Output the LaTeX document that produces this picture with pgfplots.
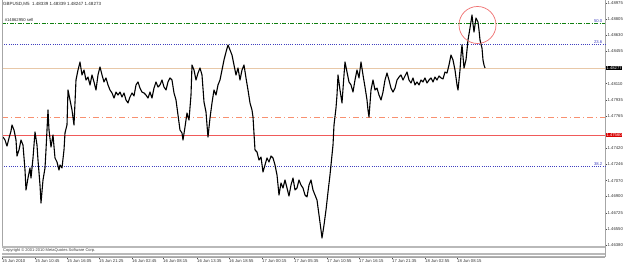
\documentclass[border=0pt]{standalone}
\usepackage{pgfplots}
\pgfplotsset{compat=1.18}
\usepackage{fontspec}
\setmainfont{Liberation Sans}
\definecolor{fibblue}{HTML}{4040C0}
\definecolor{dgreen}{HTML}{108010}
\definecolor{salmonline}{HTML}{F89070}
\definecolor{redline}{HTML}{F05A5A}
\definecolor{tanline}{HTML}{E8C8A8}
\definecolor{circ}{HTML}{F07070}
\pgfplotstableread{
x p
3 1.47538
5 1.47506
7 1.47441
9 1.47527
11 1.47602
12 1.47667
14 1.47613
16 1.47506
17 1.47334
19 1.47399
21 1.47506
23 1.47452
25 1.47184
26 1.46970
28 1.47098
30 1.47206
31 1.47098
33 1.47313
35 1.47592
37 1.47452
38 1.47291
40 1.47023
41 1.46830
43 1.47077
45 1.47206
46 1.47399
48 1.47827
49 1.47613
51 1.47431
53 1.47559
55 1.47313
57 1.47270
59 1.47184
60 1.47238
62 1.47206
64 1.47399
65 1.47581
67 1.47667
68 1.48042
70 1.47935
72 1.47827
74 1.47667
76 1.48149
78 1.48256
80 1.48342
82 1.48203
84 1.48256
86 1.48149
88 1.48181
90 1.48096
92 1.48203
94 1.48128
96 1.48042
98 1.48203
100 1.48289
102 1.48203
104 1.48128
106 1.48171
108 1.48096
110 1.48042
112 1.48010
114 1.47956
116 1.48020
118 1.47988
120 1.48020
122 1.47967
124 1.48010
126 1.47935
128 1.47903
130 1.47967
132 1.48010
134 1.47978
136 1.48096
138 1.48128
140 1.48063
142 1.48020
144 1.48010
146 1.47988
148 1.47956
150 1.48020
152 1.47956
154 1.48063
156 1.48128
158 1.48074
160 1.48096
162 1.48149
164 1.48074
166 1.48042
168 1.48128
170 1.48171
172 1.48149
174 1.48010
176 1.47935
178 1.47774
180 1.47613
182 1.47581
183 1.47506
185 1.47645
187 1.47795
189 1.47720
191 1.47988
192 1.48310
194 1.48256
196 1.48149
198 1.48224
200 1.48278
202 1.48203
204 1.47913
206 1.47806
207 1.47667
208 1.47538
210 1.47742
212 1.47903
214 1.48042
216 1.47988
218 1.48096
220 1.48149
222 1.48256
224 1.48364
226 1.48449
228 1.48525
230 1.48471
232 1.48417
234 1.48310
236 1.48203
238 1.48278
240 1.48149
242 1.48256
244 1.48310
246 1.48171
248 1.48042
250 1.47903
252 1.47827
253 1.47752
255 1.47399
257 1.47377
259 1.47291
261 1.47323
263 1.47163
265 1.47238
267 1.47313
269 1.47270
271 1.47334
273 1.47313
275 1.47238
277 1.47131
279 1.46916
281 1.47045
283 1.46991
285 1.47077
287 1.46991
289 1.46905
291 1.47023
293 1.47098
295 1.46970
297 1.46991
299 1.47077
301 1.47023
303 1.46991
305 1.46916
307 1.46895
309 1.47023
311 1.47077
313 1.46970
315 1.46916
317 1.46862
319 1.46702
321 1.46541
322 1.46455
324 1.46594
326 1.46755
328 1.46948
330 1.47131
332 1.47345
333 1.47452
334 1.47667
336 1.47849
337 1.47988
338 1.48203
340 1.48042
342 1.47903
344 1.48203
345 1.48342
347 1.48235
349 1.48128
351 1.48096
353 1.48020
355 1.48149
357 1.48256
359 1.48171
361 1.48342
363 1.48203
365 1.48074
367 1.47935
368 1.47827
369 1.47752
371 1.48042
373 1.48149
375 1.48042
377 1.48063
379 1.47988
381 1.47935
383 1.48020
385 1.48149
387 1.48224
389 1.48149
391 1.48063
393 1.48020
395 1.48063
397 1.48149
399 1.48181
401 1.48203
403 1.48149
405 1.48192
407 1.48235
409 1.48149
411 1.48117
413 1.48171
415 1.48096
417 1.48128
419 1.48096
421 1.48149
423 1.48128
425 1.48171
427 1.48117
429 1.48149
431 1.48171
433 1.48128
435 1.48181
437 1.48149
439 1.48192
441 1.48171
443 1.48160
445 1.48235
447 1.48224
449 1.48310
451 1.48417
453 1.48364
455 1.48256
457 1.48096
458 1.48042
460 1.48256
461 1.48417
462 1.48525
464 1.48278
466 1.48364
468 1.48578
470 1.48707
472 1.48846
473 1.48750
474 1.48664
476 1.48814
478 1.48771
479 1.48685
480 1.48578
482 1.48492
483 1.48364
484 1.48310
485 1.48278
}\price
\begin{document}
\begin{tikzpicture}
\useasboundingbox (0,0) rectangle (625pt,266pt);
\fill[white] (0,0) rectangle (625pt,266pt);
\begin{axis}[
  at={(2pt,9pt)}, anchor=south west, scale only axis,
  width=603pt, height=257pt,
  xmin=2, xmax=605, ymin=1.462512, ymax=1.49007,
  clip=false,
  axis x line*=bottom, axis y line*=right,
  axis line style={gray!70, line width=0.8pt, -},
  tick align=outside, major tick length=2pt,
  tick style={black!70, line width=0.4pt},
  xtick={2,35,67,99,132,163,197,229,262,294,327,359,392,425,457},
  xticklabels={15 Jun 2010,15 Jun 10:45,15 Jun 16:05,15 Jun 21:25,16 Jun 02:45,16 Jun 08:15,16 Jun 13:35,16 Jun 18:55,17 Jun 00:15,17 Jun 05:35,17 Jun 10:55,17 Jun 16:15,17 Jun 21:35,18 Jun 02:55,18 Jun 08:15},
  xticklabel style={anchor=north west, font=\fontsize{4.2}{5}\selectfont, inner sep=0.5pt, xshift=-0.5pt, text=black!80},
  ytick={1.48975,1.48805,1.48630,1.48455,1.48110,1.47935,1.47765,1.47420,1.47246,1.47070,1.46900,1.46725,1.46550,1.46380},
  yticklabels={1.48975,1.48805,1.48630,1.48455,1.48110,1.47935,1.47765,1.47420,1.47246,1.47070,1.46900,1.46725,1.46550,1.46380},
  yticklabel style={anchor=west, font=\fontsize{4.2}{5}\selectfont, inner sep=0.5pt, text=black!80},
]
% level lines
\addplot[tanline, line width=0.5pt] coordinates {(2,1.48278) (605,1.48278)};
\addplot[dgreen, line width=0.6pt, dash pattern=on 4pt off 1.5pt on 1pt off 1.5pt] coordinates {(2,1.48760) (605,1.48760)};
\addplot[fibblue, line width=0.6pt, dash pattern=on 1pt off 1.2pt] coordinates {(2,1.48535) (605,1.48535)};
\addplot[salmonline, line width=0.6pt, dash pattern=on 6pt off 3pt on 1pt off 3pt] coordinates {(2,1.47752) (605,1.47752)};
\addplot[redline, line width=0.8pt] coordinates {(2,1.47559) (605,1.47559)};
\addplot[fibblue, line width=0.6pt, dash pattern=on 1pt off 1.2pt] coordinates {(2,1.47227) (605,1.47227)};
% price
\addplot[black, line width=1.1pt, line join=round] table[x=x, y=p] {\price};
% circle
\draw[circ, line width=0.7pt] (axis cs:477.5,1.48739) circle[radius=18.5pt];
% fib labels
\node[anchor=south east, font=\fontsize{4.2}{5}\selectfont, text=fibblue, inner sep=0.6pt] at (axis cs:603,1.48760) {50.0};
\node[anchor=south east, font=\fontsize{4.2}{5}\selectfont, text=fibblue, inner sep=0.6pt] at (axis cs:603,1.48535) {23.6};
\node[anchor=south east, font=\fontsize{4.2}{5}\selectfont, text=fibblue, inner sep=0.6pt] at (axis cs:603,1.47227) {38.2};
% price boxes
\node[anchor=west, fill=black, text=white, font=\fontsize{4.2}{5}\selectfont, inner sep=0.8pt, xshift=0.5pt] at (axis cs:605,1.48278) {1.48277};
\node[anchor=west, fill=red!85!black, text=white, font=\fontsize{4.2}{5}\selectfont, inner sep=0.8pt, xshift=0.5pt] at (axis cs:605,1.47559) {1.47560};
\end{axis}
% left border
\draw[gray!70, line width=0.6pt] (2pt,266pt) -- (2pt,20.5pt);
% bottom strip
\fill[gray!55] (2pt,20.5pt) rectangle (605pt,18.5pt);
\node[anchor=west, font=\fontsize{4}{5}\selectfont, text=black!75, inner sep=0] at (3pt,16pt) {Copyright © 2001-2010 MetaQuotes Software Corp.};
\fill[gray!55] (2pt,13.5pt) rectangle (605pt,11.5pt);
\draw[gray!60, line width=0.6pt] (2pt,10.2pt) -- (605pt,10.2pt);
% header texts
\node[anchor=west, font=\fontsize{4.5}{5}\selectfont, text=black!85, inner sep=0] at (3pt,262pt) {GBPUSD,M5\ \ 1.48339 1.48339 1.48247 1.48273};
\node[anchor=south west, font=\fontsize{4.2}{5}\selectfont, text=black!85, inner sep=0.6pt] at (4pt,244pt) {\#14862950 sell};
\end{tikzpicture}
\end{document}
